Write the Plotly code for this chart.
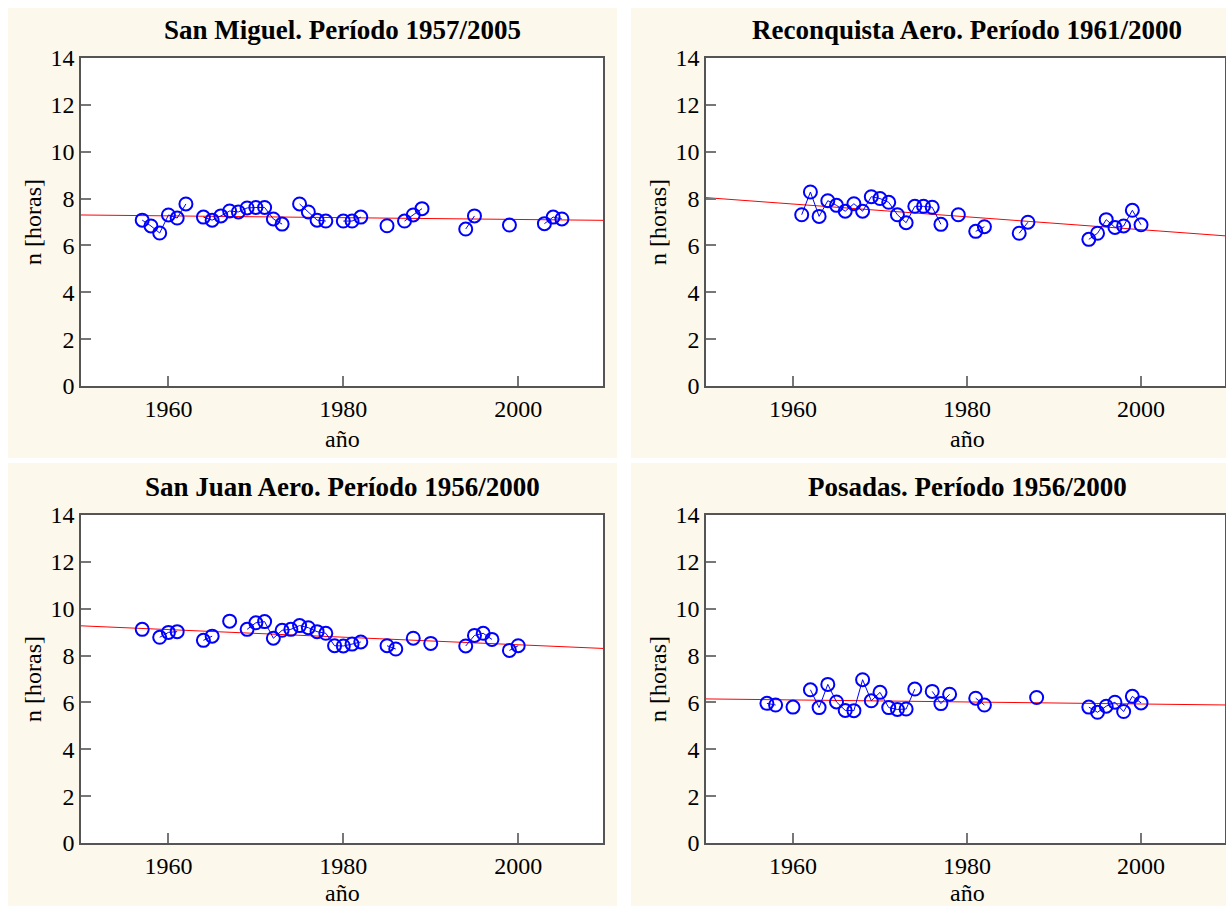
import plotly.graph_objects as go

# ---------------- data ----------------
titles = [
    "San Miguel. Período 1957/2005",
    "Reconquista Aero. Período 1961/2000",
    "San Juan Aero. Período 1956/2000",
    "Posadas. Período 1956/2000",
]

sm_years = list(range(1957, 2006))
sm_vals = [7.08, 6.83, 6.53, 7.30, 7.17, 7.77, None, 7.21, 7.08, 7.26,
           7.47, 7.43, 7.60, 7.62, 7.62, 7.13, 6.91, None, 7.77, 7.43,
           7.08, 7.04, None, 7.04, 7.04, 7.21, None, None, 6.84, None,
           7.04, 7.30, 7.57, None, None, None, None, 6.70, 7.26, None,
           None, None, 6.87, None, None, None, 6.93, 7.21, 7.13]

rq_years = list(range(1961, 2001))
rq_vals = [7.31, 8.28, 7.24, 7.91, 7.71, 7.46, 7.78, 7.46, 8.08, 8.00,
           7.84, 7.31, 6.97, 7.67, 7.67, 7.63, 6.90, None, 7.31, None,
           6.60, 6.80, None, None, None, 6.52, 6.99, None, None, None,
           None, None, None, 6.26, 6.52, 7.10, 6.77, 6.83, 7.50, 6.88]

sj_years = list(range(1957, 2001))
sj_vals = [9.12, None, 8.78, 8.99, 9.02, None, None, 8.65, 8.83, None,
           9.47, None, 9.12, 9.40, 9.45, 8.74, 9.08, 9.12, 9.28, 9.19,
           9.02, 8.95, 8.42, 8.41, 8.49, 8.58, None, None, 8.42, 8.28,
           None, 8.74, None, 8.52, None, None, None, 8.41, 8.86, 8.95,
           8.69, None, 8.22, 8.42]

po_years = list(range(1957, 2001))
po_vals = [5.96, 5.89, None, 5.80, None, 6.54, 5.78, 6.77, 6.02, 5.66,
           5.65, 6.97, 6.07, 6.43, 5.78, 5.70, 5.72, 6.57, None, 6.47,
           5.95, 6.35, None, None, 6.18, 5.89, None, None, None, None,
           None, 6.21, None, None, None, None, None, 5.80, 5.58, 5.84,
           6.01, 5.61, 6.26, 5.98]

trend_x = [1950, 2010]
sm_trend = [7.30, 7.07]
rq_trend = [8.04, 6.40]
sj_trend = [9.27, 8.30]
po_trend = [6.15, 5.89]

y_ticks = [0, 2, 4, 6, 8, 10, 12, 14]
x_ticks = [1960, 1980, 2000]

# ---------------- figure ----------------
W, H = 1226, 908
fig = go.Figure()

series = [(sm_years, sm_vals, sm_trend), (rq_years, rq_vals, rq_trend),
          (sj_years, sj_vals, sj_trend), (po_years, po_vals, po_trend)]

# plot areas in pixels: (left, right, top, bottom)
areas = [(81, 603, 58, 386), (706, 1225, 58, 386),
         (81, 603, 515, 843), (706, 1225, 515, 843)]
xranges = [[1950, 2009.7], [1950, 2009.65], [1950, 2009.7], [1950, 2009.65]]
panels = [(8, 617, 8, 458), (631, 1226, 8, 458),
          (8, 617, 463, 906), (631, 1226, 463, 906)]

cream = "#FDF8EC"
font_family = "Liberation Serif, Times New Roman, serif"

shapes = []
for (x0, x1, y0, y1) in panels:
    shapes.append(dict(type="rect", xref="paper", yref="paper",
                       x0=x0 / W, x1=x1 / W, y0=1 - y1 / H, y1=1 - y0 / H,
                       fillcolor=cream, line=dict(width=0), layer="below"))
for (l, r, t, b) in areas:
    shapes.append(dict(type="rect", xref="paper", yref="paper",
                       x0=l / W, x1=r / W, y0=1 - b / H, y1=1 - t / H,
                       fillcolor="white", line=dict(width=0), layer="below"))

annotations = []
for i, ((yrs, vals, tr), (l, r, t, b), title) in enumerate(zip(series, areas, titles)):
    n = "" if i == 0 else str(i + 1)
    xa = "x" + n
    ya = "y" + n
    fig.add_trace(go.Scatter(x=trend_x, y=tr, mode="lines",
                             line=dict(color="red", width=1),
                             xaxis=xa, yaxis=ya, showlegend=False,
                             cliponaxis=True, hoverinfo="skip"))
    fig.add_trace(go.Scatter(x=yrs, y=vals, mode="lines+markers",
                             connectgaps=False,
                             line=dict(color="blue", width=1),
                             marker=dict(symbol="circle-open", size=13,
                                         color="blue",
                                         line=dict(width=2, color="blue")),
                             xaxis=xa, yaxis=ya, showlegend=False,
                             cliponaxis=False))
    axis_common = dict(showgrid=False, zeroline=False, showline=True,
                       linecolor="#555555", linewidth=1.5, mirror=True,
                       ticks="inside", ticklen=10, tickcolor="#777777",
                       tickwidth=1.5, automargin=False,
                       tickfont=dict(family=font_family, size=24, color="black"))
    fig.layout["xaxis" + n] = dict(
        domain=[l / W, r / W], anchor=ya, range=xranges[i],
        tickvals=x_ticks, **axis_common)
    fig.layout["yaxis" + n] = dict(
        domain=[1 - b / H, 1 - t / H], anchor=xa, range=[0, 14],
        tickvals=y_ticks, **axis_common)
    cx = (l + (l + 522)) / 2
    annotations.append(dict(text="<b>" + title + "</b>", xref="paper", yref="paper",
                            x=cx / W, y=1 - (t - 28) / H, xanchor="center",
                            yanchor="middle", showarrow=False,
                            font=dict(family=font_family, size=27, color="black")))
    annotations.append(dict(text="año", xref="paper", yref="paper",
                            x=cx / W, y=1 - min(b + 67, 907) / H, xanchor="center",
                            yanchor="bottom", showarrow=False, borderpad=0,
                            font=dict(family=font_family, size=24, color="black")))
    annotations.append(dict(text="n [horas]", xref="paper", yref="paper",
                            x=(l - 48) / W, y=1 - ((t + b) / 2) / H,
                            xanchor="center", yanchor="middle", textangle=-90,
                            showarrow=False,
                            font=dict(family=font_family, size=24, color="black")))

fig.update_layout(width=W, height=H, margin=dict(l=0, r=0, t=0, b=0, pad=0),
                  autosize=False,
                  paper_bgcolor="white", plot_bgcolor="rgba(0,0,0,0)",
                  shapes=shapes, annotations=annotations)

fig.write_html("out.html",
               config={"displayModeBar": False},
               post_script="document.body.style.margin='0';"
                           "document.documentElement.style.overflow='hidden';")
